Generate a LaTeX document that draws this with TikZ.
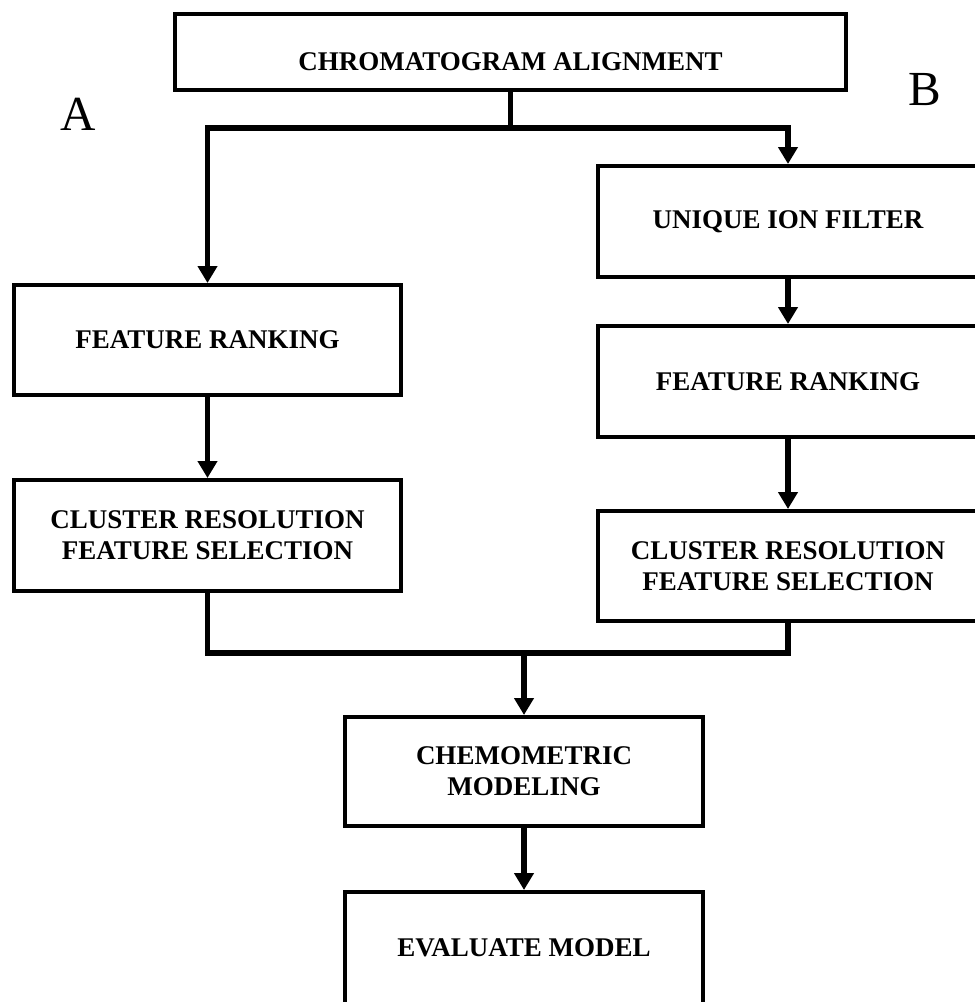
\documentclass[tikz,border=0pt]{standalone}
\usepackage{fontspec}
\setmainfont{Liberation Serif}
\usetikzlibrary{arrows.meta}
\tikzset{
  box/.style={draw, line width=4pt, rectangle, align=center, inner sep=2pt,
    font=\fontsize{27}{31}\selectfont\bfseries},
  conn/.style={line width=5.5pt, line join=miter},
  arr/.style={conn, -{Triangle[width=19pt,length=17pt]}},
  tag/.style={font=\fontsize{49}{55}\selectfont, inner sep=0pt}
}
\begin{document}
\begin{tikzpicture}[x=1pt, y=-1pt]
\useasboundingbox (0,0) rectangle (975,1002);
\clip (0,0) rectangle (975,1002);

\node[box, minimum width=671pt, minimum height=76pt, text height=36pt, text depth=0pt] (top) at (510.5,52) {CHROMATOGRAM ALIGNMENT};

\node[box, minimum width=387pt, minimum height=110pt] (lfr) at (207.5,340) {FEATURE RANKING};
\node[box, minimum width=387pt, minimum height=111pt] (lcl) at (207.5,535.5) {CLUSTER RESOLUTION\\FEATURE SELECTION};

\node[box, minimum width=380pt, minimum height=111pt] (uif) at (788,221.5) {UNIQUE ION FILTER};
\node[box, minimum width=380pt, minimum height=111pt] (rfr) at (788,381.5) {FEATURE RANKING};
\node[box, minimum width=380pt, minimum height=110pt] (rcl) at (788,566) {CLUSTER RESOLUTION\\FEATURE SELECTION};

\node[box, minimum width=358pt, minimum height=109pt] (chem) at (524,771.5) {CHEMOMETRIC\\MODELING};
\node[box, minimum width=358pt, minimum height=112pt] (eval) at (524,948) {EVALUATE MODEL};

\node[tag] (A) at (78.5,114.5) {A};
\node[tag] (B) at (925,89.5) {B};

\coordinate (split) at (510.5,128);
\coordinate (merge) at (524,653);

\draw[conn] (top.south) -- (split);
\draw[arr] (split) -| (lfr.north);
\draw[arr] (split) -| (uif.north);
\draw[arr] (lfr) -- (lcl);
\draw[arr] (uif) -- (rfr);
\draw[arr] (rfr) -- (rcl);
\draw[conn] (lcl.south) |- (merge);
\draw[conn] (rcl.south) |- (merge);
\draw[arr] (merge) -- (chem.north);
\draw[arr] (chem) -- (eval);
\end{tikzpicture}
\end{document}
